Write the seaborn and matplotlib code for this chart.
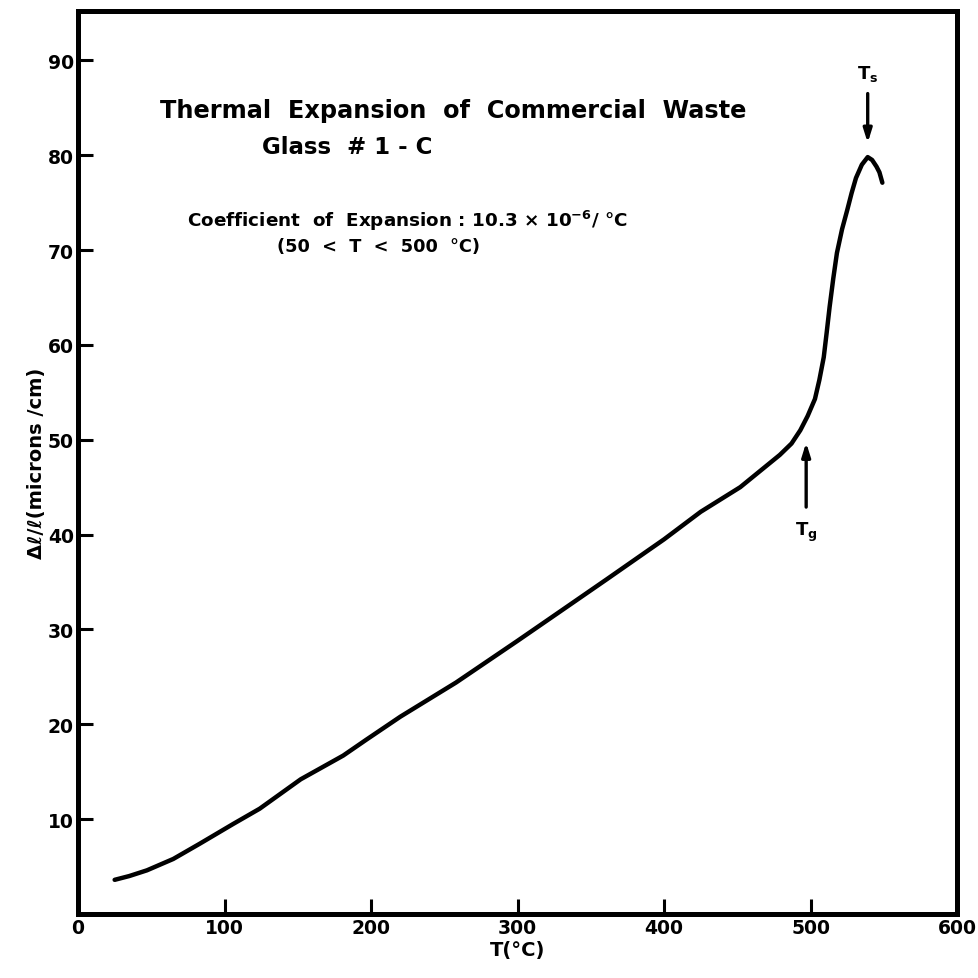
import matplotlib
matplotlib.use("Agg")
import matplotlib.pyplot as plt
import seaborn as sns
import pandas as pd

# ---- data ----
temperature_c = [25, 35, 47, 65, 83, 106, 124, 152, 181, 197, 220, 258, 300, 331,
                 361, 400, 425, 452, 479, 487, 493, 498, 503, 506, 509, 511, 513,
                 515.5, 518, 521.5, 525, 528, 531, 535, 539, 542, 545, 547, 549]
expansion_um_cm = [3.6, 4.0, 4.6, 5.8, 7.4, 9.5, 11.1, 14.2, 16.7, 18.4, 20.8, 24.4,
                   28.8, 32.1, 35.3, 39.5, 42.4, 45.0, 48.4, 49.6, 51.0, 52.5, 54.3,
                   56.3, 58.7, 61.3, 64.0, 67.0, 69.7, 72.2, 74.2, 76.0, 77.6, 79.0,
                   79.8, 79.5, 78.8, 78.2, 77.1]
x_ticks = [0, 100, 200, 300, 400, 500, 600]
y_ticks = [10, 20, 30, 40, 50, 60, 70, 80, 90]
tg_temp = 497
ts_temp = 539

df = pd.DataFrame({"T": temperature_c, "dL": expansion_um_cm})

sns.set_style("white")
plt.rcParams["font.family"] = ["DejaVu Sans"]
plt.rcParams["font.weight"] = "bold"
plt.rcParams["text.color"] = "black"
plt.rcParams["axes.labelcolor"] = "black"
plt.rcParams["xtick.color"] = "black"
plt.rcParams["ytick.color"] = "black"

fig = plt.figure(figsize=(9.79, 9.79), dpi=100)
ax = fig.add_axes([0.0797, 0.0654, 0.8979, 0.9223])

sns.lineplot(data=df, x="T", y="dL", ax=ax, color="black", linewidth=3.2,
             sort=False, estimator=None)
ax.lines[0].set_solid_capstyle("round")
ax.lines[0].set_solid_joinstyle("round")

ax.set_xlim(0, 600)
ax.set_ylim(0, 95.2)
ax.set_xticks(x_ticks)
ax.set_yticks(y_ticks)
ax.set_xticklabels([str(v) for v in x_ticks], fontsize=13.5, fontweight="bold")
ax.set_yticklabels([str(v) for v in y_ticks], fontsize=13.5, fontweight="bold")
ax.tick_params(axis="both", direction="in", length=11, width=2.2, colors="black",
               bottom=True, left=True, top=False, right=False)
ax.tick_params(axis="y", pad=3)
ax.tick_params(axis="x", pad=3)
for s in ax.spines.values():
    s.set_visible(True)
    s.set_linewidth(3.6)
    s.set_color("black")

ax.set_xlabel("T(°C)", fontsize=14, fontweight="bold", labelpad=2)
ax.set_ylabel("Δℓ/ℓ(microns /cm)", fontsize=14, fontweight="bold", labelpad=1)

# texts
ax.text(56, 84.8, "Thermal  Expansion  of  Commercial  Waste", fontsize=17.3,
        fontweight="bold", ha="left", va="center")
ax.text(125.6, 80.9, "Glass  # 1 - C", fontsize=16.5, fontweight="bold",
        ha="left", va="center")
ax.text(74.4, 73.2, "Coefficient  of  Expansion : 10.3 × 10$^{\\mathbf{-6}}$/ °C",
        fontsize=13.2, fontweight="bold", ha="left", va="center")
ax.text(135.8, 70.4, "(50  <  T  <  500  °C)", fontsize=12.8, fontweight="bold",
        ha="left", va="center")

# arrows
arrow_kw = dict(arrowstyle="-|>,head_length=0.8,head_width=0.25", color="black",
                lw=2.4, shrinkA=0, shrinkB=0)
ax.annotate("", xy=(tg_temp, 49.7), xytext=(tg_temp, 42.9), arrowprops=arrow_kw)
ax.annotate("", xy=(ts_temp, 81.3), xytext=(ts_temp, 86.5), arrowprops=arrow_kw)
ax.text(tg_temp, 40.3, "T$_\\mathbf{g}$", fontsize=13, fontweight="bold",
        ha="center", va="center")
ax.text(ts_temp, 88.7, "T$_\\mathbf{s}$", fontsize=13, fontweight="bold",
        ha="center", va="center")

fig.savefig("out.png", dpi=100, facecolor="white")
